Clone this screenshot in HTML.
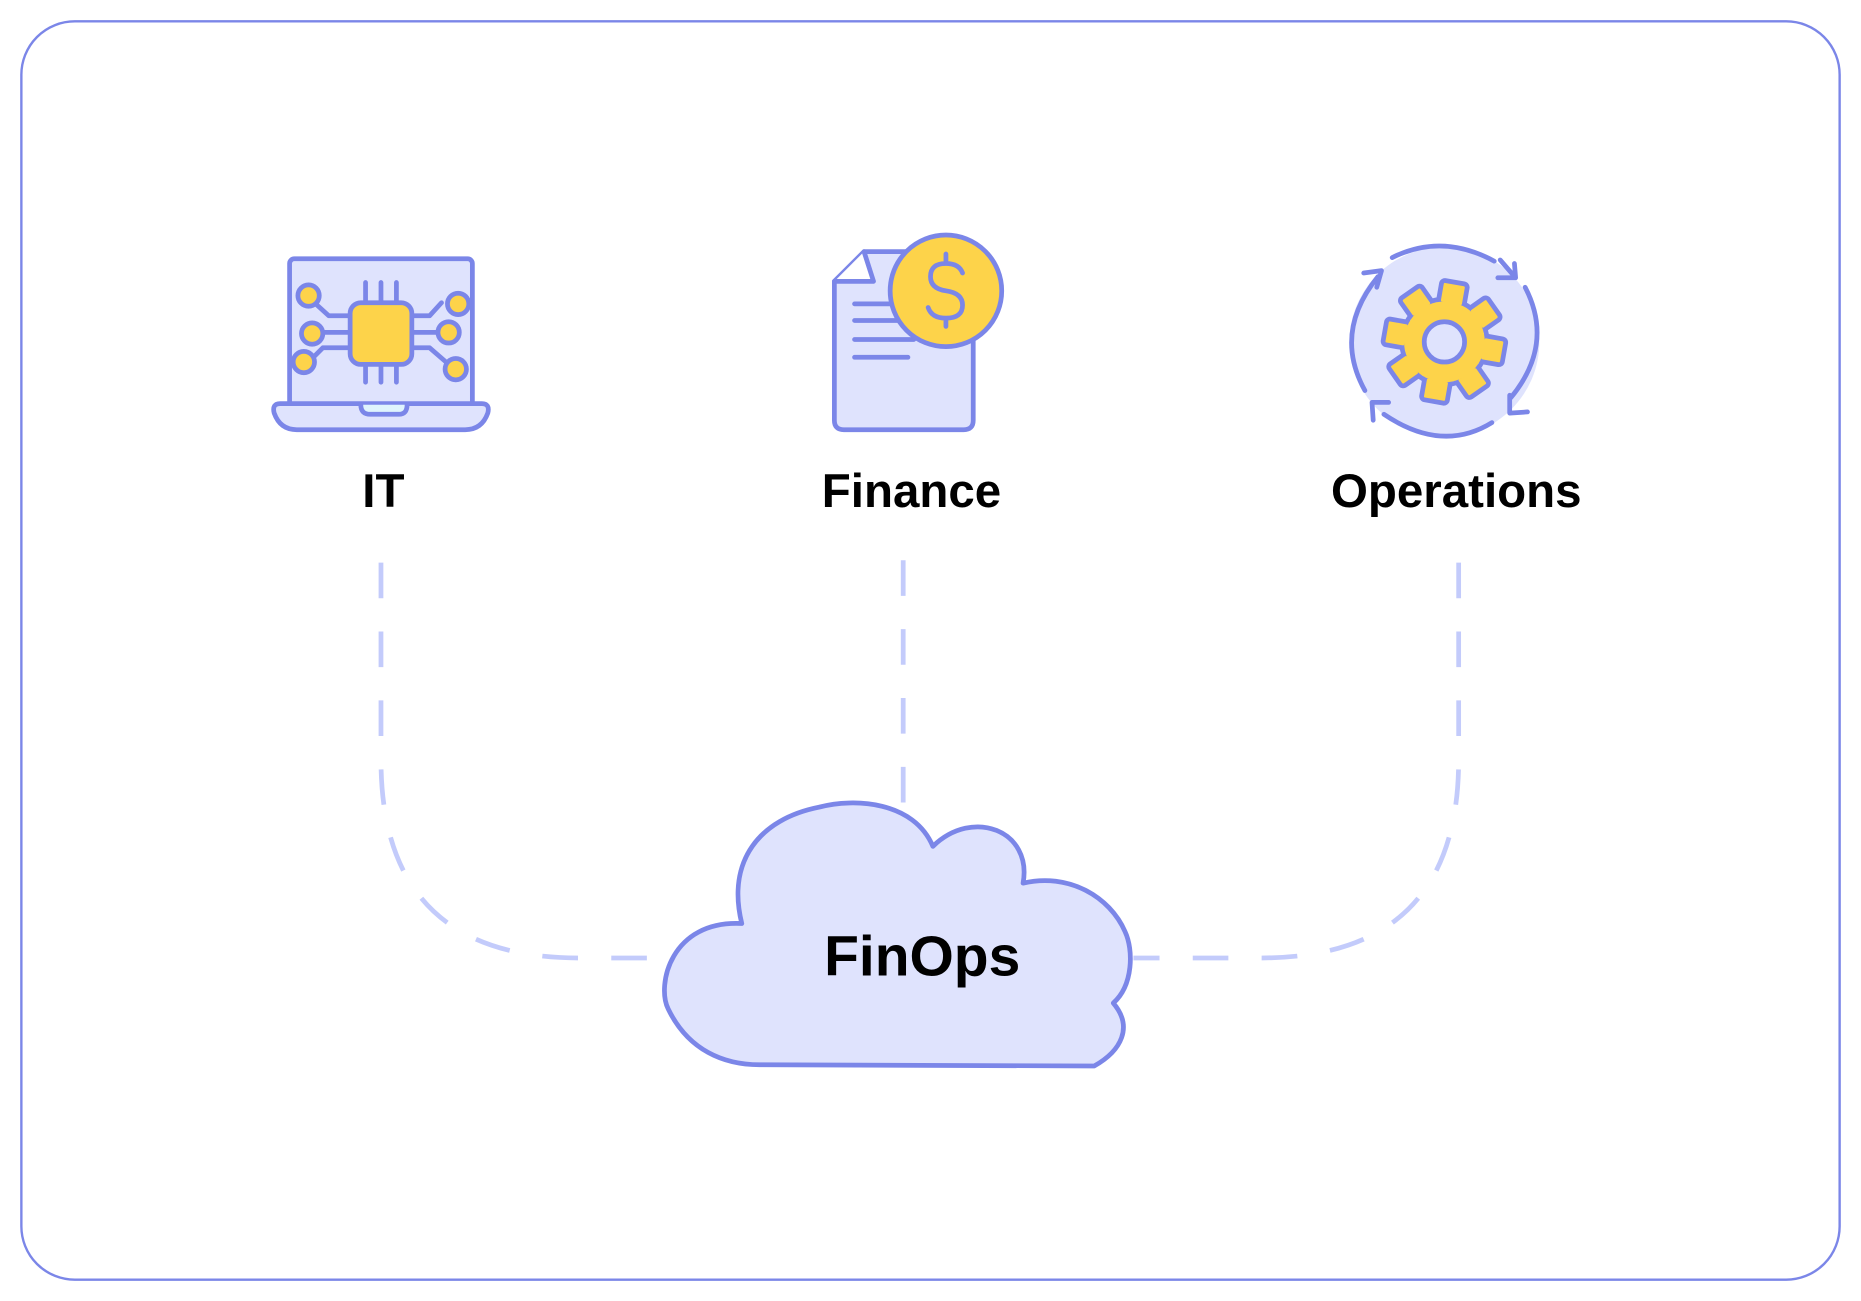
<!DOCTYPE html>
<html><head><style>html,body{margin:0;padding:0;background:#fff}svg{display:block}</style></head>
<body>
<svg width="1861" height="1301" viewBox="0 0 1568 1096" preserveAspectRatio="none" xmlns="http://www.w3.org/2000/svg">
<rect x="18" y="18" width="1532" height="1060" rx="45" fill="#fff" stroke="#7b86e8" stroke-width="2"/>
<g fill="none" stroke="#c3cbfb" stroke-width="4" stroke-dasharray="30 28">
<path d="M321 474 V640 Q321 807 488 807 H565"/>
<path d="M1229 474 V640 Q1229 807 1062 807 H955"/>
<path d="M761 472 V690"/>
</g>
<!-- laptop -->
<g stroke="#7b86e8" stroke-width="4" stroke-linejoin="round" stroke-linecap="round">
<rect x="244" y="218" width="154" height="124" rx="4" fill="#dfe3fd"/>
<path d="M236 340 H406 Q413 340 411 348 Q406 362 392 362 H250 Q236 362 231 348 Q229 340 236 340Z" fill="#dfe3fd"/>
<path d="M304 341 Q304 349 312 349 H336 Q343 349 343 341" fill="#dff4fd"/>
<path d="M308 238V255M321 238V255M334 238V255M308 307V322M321 307V322M334 307V322" fill="none"/>
<path d="M266 256 L277 266 H295 M271 280 H295 M262 303 L272 293 H295 M347 266 H362 L372 255 M347 280 H370 M347 293 H362 L377 306" fill="none"/>
<rect x="295" y="255" width="52" height="52" rx="9" fill="#fdd34a"/>
<circle cx="260" cy="249" r="9" fill="#fdd34a"/>
<circle cx="263" cy="281" r="9" fill="#fdd34a"/>
<circle cx="256" cy="305" r="9" fill="#fdd34a"/>
<circle cx="386" cy="256" r="9" fill="#fdd34a"/>
<circle cx="378" cy="280" r="9" fill="#fdd34a"/>
<circle cx="384" cy="311" r="9" fill="#fdd34a"/>
</g>
<!-- finance -->
<g stroke="#7b86e8" stroke-width="4" stroke-linejoin="round" stroke-linecap="round">
<path d="M728 212 H812 Q820 212 820 220 V354 Q820 362 812 362 H711 Q703 362 703 354 V237 Z" fill="#dfe3fd"/>
<path d="M728 212 L736 237 H703" fill="#fff"/>
<path d="M720 256H765M720 270H765M720 286H770M720 301H765" fill="none"/>
<circle cx="797" cy="245" r="47" fill="#fdd34a"/>
<path d="M811 230 Q808 222 797 222 Q784 222 784 233 Q784 243 797 245 Q811 247 811 257 Q811 268 797 268 Q785 268 782 259 M797 214V222M797 268V275" fill="none"/>
</g>
<!-- operations -->
<g stroke="#7b86e8" stroke-width="4" stroke-linecap="round" stroke-linejoin="round" fill="none">
<circle cx="1217" cy="288" r="80" fill="#dfe3fd" stroke="none"/>
<path d="M1173 217 Q1215 196 1259 220"/>
<path d="M1264 219 L1277 234 M1277 234 L1262 234 M1277 234 L1276 222"/>
<path d="M1285 242 Q1310 290 1273 335"/>
<path d="M1272 348 L1272 333 M1272 348 L1287 347"/>
<path d="M1257 356 Q1215 382 1166 349"/>
<path d="M1156 339 L1170 339 M1156 339 L1157 354"/>
<path d="M1150 329 Q1123 280 1161 233"/>
<path d="M1164 228 L1149 230 M1164 228 L1160 242"/>
<circle cx="1217" cy="288" r="36"/>
<g fill="#fdd34a">
<rect x="1206" y="237" width="22" height="20" rx="3" transform="rotate(10 1217 288)"/>
<rect x="1206" y="237" width="22" height="20" rx="3" transform="rotate(55 1217 288)"/>
<rect x="1206" y="237" width="22" height="20" rx="3" transform="rotate(100 1217 288)"/>
<rect x="1206" y="237" width="22" height="20" rx="3" transform="rotate(145 1217 288)"/>
<rect x="1206" y="237" width="22" height="20" rx="3" transform="rotate(190 1217 288)"/>
<rect x="1206" y="237" width="22" height="20" rx="3" transform="rotate(235 1217 288)"/>
<rect x="1206" y="237" width="22" height="20" rx="3" transform="rotate(280 1217 288)"/>
<rect x="1206" y="237" width="22" height="20" rx="3" transform="rotate(325 1217 288)"/>
</g>
<circle cx="1217" cy="288" r="34" fill="#fdd34a" stroke="none"/>
<circle cx="1217" cy="288" r="17" fill="#dfe3fd"/>
</g>
<!-- cloud -->
<path d="M625 778 C565 775 553 830 563 850 C580 885 610 897 640 897 L922 898 C945 885 955 865 938 845 C955 830 955 800 948 785 C935 755 900 735 862 744 C870 700 820 680 786 713 C770 675 720 672 690 680 C640 690 612 725 625 778 Z" fill="#dfe3fd" stroke="#7b86e8" stroke-width="4" stroke-linejoin="round"/>
<g font-family="Liberation Sans, sans-serif" font-weight="bold" fill="#000" text-anchor="middle">
<text x="323" y="427" font-size="40">IT</text>
<text x="768" y="427" font-size="40">Finance</text>
<text x="1227" y="427" font-size="40">Operations</text>
<text x="777" y="822" font-size="48">FinOps</text>
</g>
</svg>
</body></html>
